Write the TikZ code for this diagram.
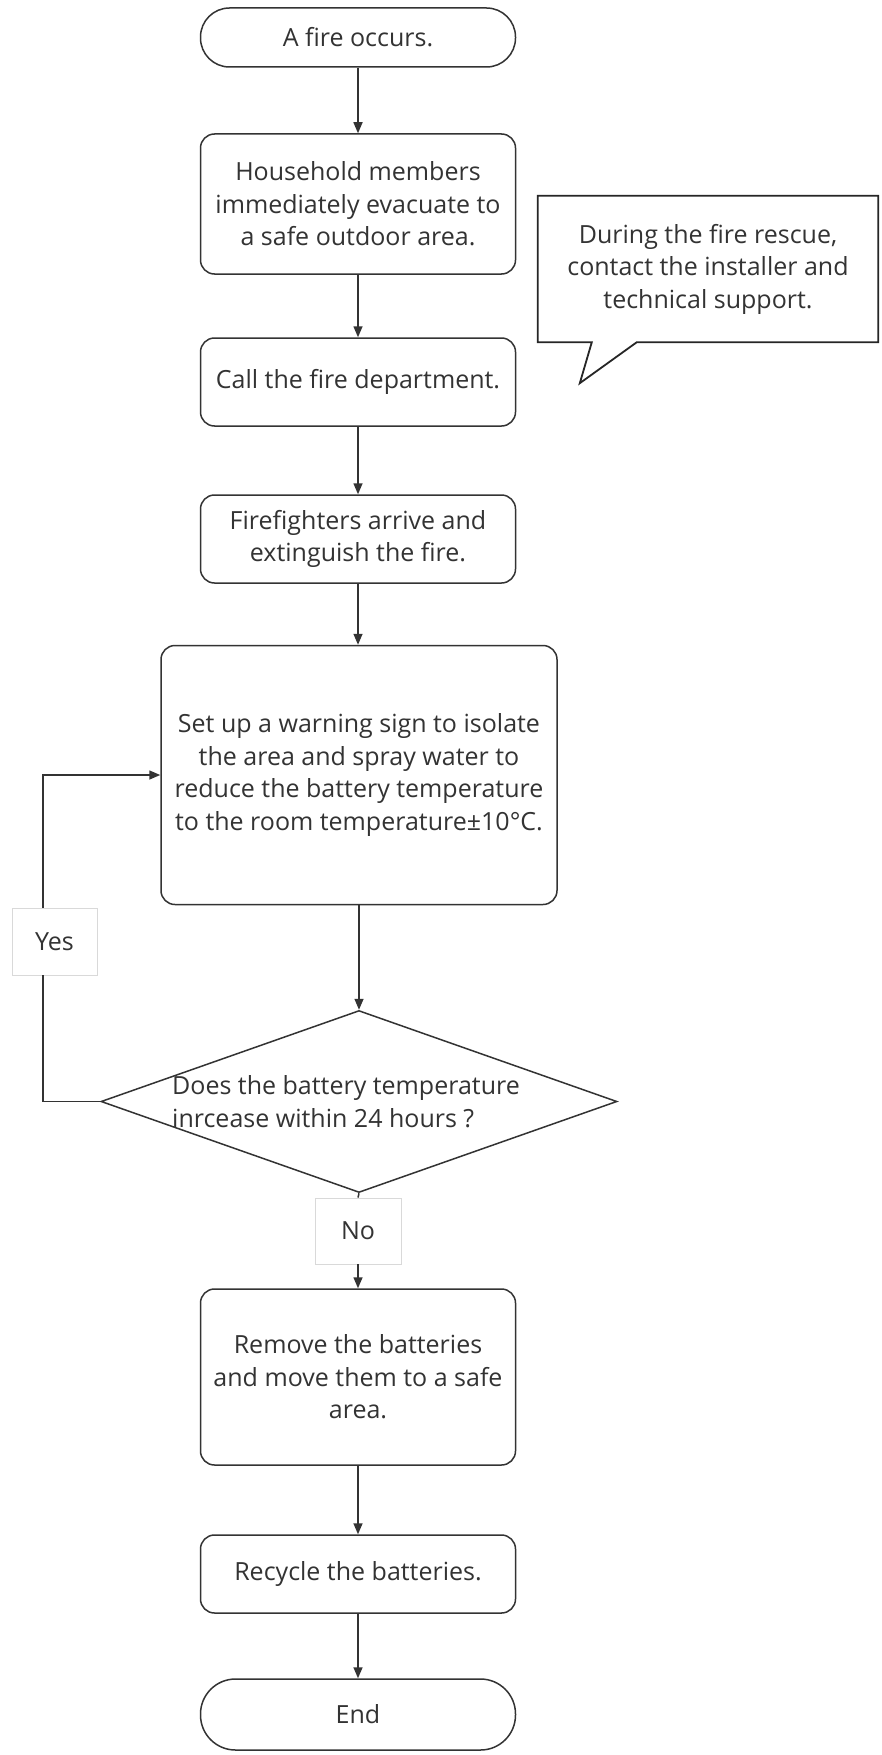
\documentclass[tikz,border=0pt]{standalone}
\usepackage{fontspec}
\setmainfont{Open Sans}
\usetikzlibrary{shapes.geometric,arrows.meta,calc}
\definecolor{ink}{HTML}{333333}
\definecolor{lbl}{HTML}{D9D9D9}
\begin{document}
\begin{tikzpicture}[x=1pt,y=-1pt,
  font=\fontsize{25}{32.5}\selectfont,
  box/.style={draw=ink, line width=1.5pt, fill=white, text=ink, rounded corners=14pt,
    minimum width=315pt, align=center, inner sep=0pt},
  term/.style={box, rounded corners=29pt},
  lblbox/.style={draw=lbl, line width=0.8pt, fill=white, text=ink, inner sep=0pt},
  ln/.style={draw=ink, line width=1.5pt},
  arr/.style={ln, -{Triangle[length=11pt,width=9pt]}},
  callout/.style={draw=black!85, line width=1.8pt, line join=miter}
]
\fill[white] (0,0) rectangle (881,1755);
\useasboundingbox (0,0) rectangle (881,1755);

% main column
\node[term, minimum height=59pt] (n1) at (358,37.5) {A fire occurs.};
\node[box, minimum height=140pt] (n2) at (358,204) {Household members\\immediately evacuate to\\a safe outdoor area.};
\node[box, minimum height=88pt] (n3) at (358,382) {Call the fire department.};
\node[box, minimum height=88pt] (n4) at (358,539) {Firefighters arrive and\\extinguish the fire.};
\node[box, minimum width=396pt, minimum height=259pt] (n5) at (359,775) {Set up a warning sign to isolate\\the area and spray water to\\reduce the battery temperature\\to the room temperature±10°C.};
\node[diamond, draw=ink, line width=1.5pt, fill=white, minimum width=516pt, minimum height=182pt, inner sep=0pt] (dia) at (359,1101.5) {};
\node[anchor=west, align=left, inner sep=0pt, text=ink] (q) at (172,1101.5) {Does the battery temperature\\inrcease within 24 hours ?};
\node[box, minimum height=176pt] (n6) at (358,1377) {Remove the batteries\\and move them to a safe\\area.};
\node[box, minimum height=78pt] (n7) at (358,1574) {Recycle the batteries.};
\node[term, rounded corners=35pt, minimum height=71pt] (n8) at (358,1714.5) {End};

% labels
\node[lblbox, minimum width=85pt, minimum height=67pt] (yes) at (54.5,941.5) {Yes};
\node[lblbox, minimum width=86pt, minimum height=66pt] (no) at (358,1231) {No};

% callout
\node[minimum width=340pt, minimum height=146pt, align=center, inner sep=0pt, text=ink] (note) at (708,269) {During the fire rescue,\\contact the installer and\\technical support.};
\draw[callout] (note.north west) -- (note.north east) -- (note.south east)
  -- ($(note.south west)+(99,0)$) -- ($(note.south west)+(42,41)$)
  -- ($(note.south west)+(54,0)$) -- (note.south west) -- cycle;

% connectors
\draw[arr] (n1) -- (n2);
\draw[arr] (n2) -- (n3);
\draw[arr] (n3) -- (n4);
\draw[arr] (n4.south) -- (n4.south |- n5.north);
\draw[arr] (n5.south -| dia.north) -- (dia.north);
\draw[ln] (dia.south) -- (no.north);
\draw[arr] (no.south) -- (n6.north);
\draw[arr] (n6) -- (n7);
\draw[arr] (n7) -- (n8);

\coordinate (lx) at (43,0);
\draw[ln] (dia.west) -- (dia.west -| lx) -- (yes.south -| lx);
\draw[arr] (yes.north -| lx) -- (n5.west -| lx) -- (n5.west);
\end{tikzpicture}
\end{document}
